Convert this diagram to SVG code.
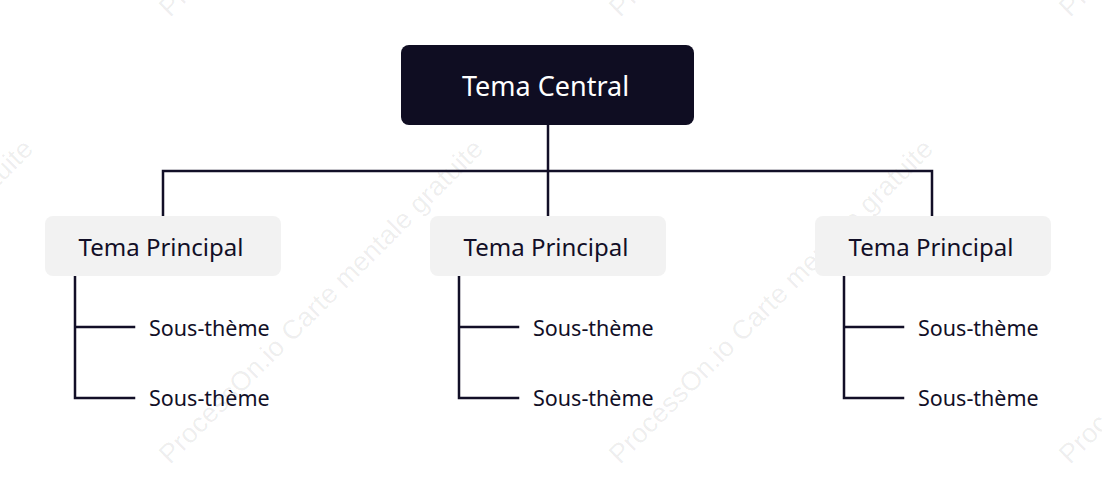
<svg xmlns="http://www.w3.org/2000/svg" width="1102" height="479" viewBox="0 0 1102 479">
<style>
.wm{font-family:"Liberation Sans",Arial,sans-serif;font-size:27px;fill:#000;fill-opacity:0.075}
.ln{fill:none;stroke:#120f27;stroke-width:2.5;stroke-linecap:square}
.main{fill:#f2f2f2}
.t{font-family:"Noto Sans","Open Sans",sans-serif;fill:#120f27}
.tp{font-size:24px;text-anchor:middle}
.ts{font-size:21.5px}
.tc{font-family:"Noto Sans","Open Sans",sans-serif;font-size:27px;fill:#ffffff;text-anchor:middle}
</style>
<rect width="1102" height="479" fill="#ffffff"/>
<g id="watermarks">
<text class="wm" transform="translate(-280,465) rotate(-45)" textLength="445">ProcessOn.io Carte mentale gratuite</text>
<text class="wm" transform="translate(170,465) rotate(-45)" textLength="445">ProcessOn.io Carte mentale gratuite</text>
<text class="wm" transform="translate(620,465) rotate(-45)" textLength="445">ProcessOn.io Carte mentale gratuite</text>
<text class="wm" transform="translate(1070,465) rotate(-45)" textLength="445">ProcessOn.io Carte mentale gratuite</text>
<text class="wm" transform="translate(170,18) rotate(-45)" textLength="445">ProcessOn.io Carte mentale gratuite</text>
<text class="wm" transform="translate(620,18) rotate(-45)" textLength="445">ProcessOn.io Carte mentale gratuite</text>
<text class="wm" transform="translate(1070,18) rotate(-45)" textLength="445">ProcessOn.io Carte mentale gratuite</text>
</g>
<g id="connectors">
<path class="ln" d="M548,125 V215"/>
<path class="ln" d="M163,216 V171 H932 V216"/>
<path class="ln" d="M75,277 V398 H134 M75,327 H134"/>
<path class="ln" d="M459,277 V398 H518 M459,327 H518"/>
<path class="ln" d="M844,277 V398 H903 M844,327 H903"/>
</g>
<g id="central">
<rect x="401" y="45" width="293" height="80" rx="8" fill="#0f0d22"/>
<text class="tc" x="545.5" y="96">Tema Central</text>
</g>
<g id="main1">
<rect class="main" x="45" y="216" width="236" height="60" rx="8"/>
<text class="t tp" x="161" y="256">Tema Principal</text>
</g>
<g id="main2">
<rect class="main" x="430" y="216" width="236" height="60" rx="8"/>
<text class="t tp" x="546" y="256">Tema Principal</text>
</g>
<g id="main3">
<rect class="main" x="815" y="216" width="236" height="60" rx="8"/>
<text class="t tp" x="931" y="256">Tema Principal</text>
</g>
<g id="sub1a"><text class="t ts" x="149" y="336">Sous-thème</text></g>
<g id="sub1b"><text class="t ts" x="149" y="406">Sous-thème</text></g>
<g id="sub2a"><text class="t ts" x="533" y="336">Sous-thème</text></g>
<g id="sub2b"><text class="t ts" x="533" y="406">Sous-thème</text></g>
<g id="sub3a"><text class="t ts" x="918" y="336">Sous-thème</text></g>
<g id="sub3b"><text class="t ts" x="918" y="406">Sous-thème</text></g>
</svg>
